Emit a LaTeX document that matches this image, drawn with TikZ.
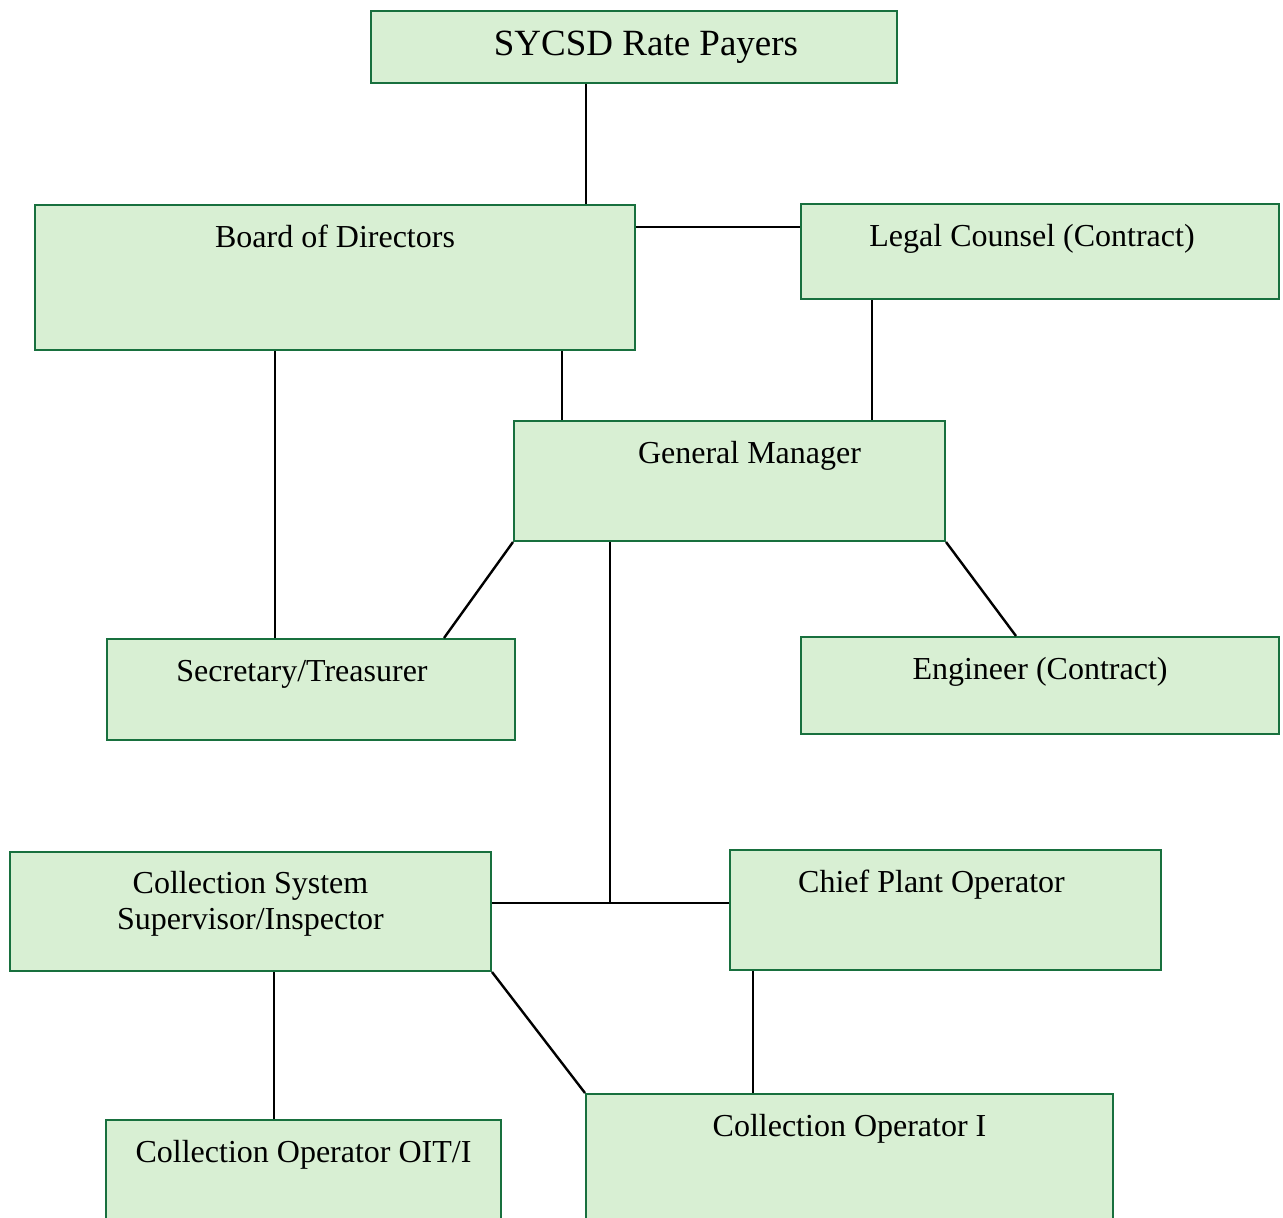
\documentclass[tikz,border=0pt]{standalone}
\usepackage{fontspec}
\setmainfont{Liberation Serif}
\usetikzlibrary{calc,positioning}
\definecolor{boxfill}{RGB}{216,239,211}
\definecolor{boxline}{RGB}{24,112,62}
\tikzset{
  orgbox/.style={draw=boxline, fill=boxfill, line width=1pt, rectangle,
    inner sep=0pt, anchor=north west, align=center, text height=21pt,
    font=\fontsize{16}{18}\selectfont},
  link/.style={draw=black, line width=1.2pt}
}

\begin{document}
\begin{tikzpicture}[x=0.5pt,y=-0.5pt]

  \useasboundingbox (0,0) rectangle (1283,1217);

  \node (payers) [orgbox, minimum width=263pt, text height=22pt, text depth=14pt,
    font=\fontsize{18.5}{21}\selectfont] at (370,10) {\hspace*{12pt}SYCSD Rate Payers};

  \node (board) [orgbox, minimum width=300pt, text depth=51.5pt] at (34,204) {Board of Directors};
  \node (legal) [orgbox, minimum width=239pt, text depth=26.5pt] at (800,203) {Legal Counsel (Contract)\hspace*{8pt}};

  \node (gm) [orgbox, minimum width=215.5pt, text depth=39pt] at (513,420) {\hspace*{20pt}General Manager};

  \node (sec) [orgbox, minimum width=204pt, text depth=29.5pt] at (106,638) {Secretary/Treasurer\hspace*{9pt}};
  \node (eng) [orgbox, minimum width=239pt, text depth=27.5pt] at (800,636) {Engineer (Contract)};

  \node (css) [orgbox, minimum width=240.5pt, text height=38.5pt, text depth=21pt]
    at (9,851) {Collection System\\Supervisor/Inspector};
  \node (chief) [orgbox, minimum width=215.5pt, text depth=39pt] at (729,849) {Chief Plant Operator\hspace*{14pt}};

  \node (coit) [orgbox, minimum width=197.5pt, text depth=39pt] at (105,1119) {Collection Operator OIT/I};
  \node (coi) [orgbox, minimum width=263.5pt, text depth=44pt] at (585,1093) {Collection Operator I};

  % upper part
  \draw[link] (payers.south west) ++(216,0) coordinate (p1) -- (p1 |- board.north);
  \draw[link] (board.north east) ++(0,23) coordinate (b1) -- (b1 -| legal.west);
  \draw[link] (gm.north west) ++(49,0) coordinate (g1) -- (g1 |- board.south);
  \draw[link] (legal.south west) ++(72,0) coordinate (l1) -- (l1 |- gm.north);
  \draw[link] (sec.north west) ++(169,0) coordinate (s1) -- (s1 |- board.south);

  % below the manager
  \draw[link] (gm.south west) -- ($(sec.north east)+(-72,0)$);
  \draw[link] (gm.south east) -- ($(eng.north west)+(216,0)$);
  \draw[link] (css.north east) ++(0,52) coordinate (c1) -- (c1 -| chief.west);
  \draw[link] (gm.south west) ++(97,0) coordinate (g2) -- (g2 |- c1);

  % operators
  \draw[link] (coit.north west) ++(169,0) coordinate (o1) -- (o1 |- css.south);
  \draw[link] (css.south east) -- (coi.north west);
  \draw[link] (chief.south west) ++(24,0) coordinate (h1) -- (h1 |- coi.north);

\end{tikzpicture}
\end{document}
